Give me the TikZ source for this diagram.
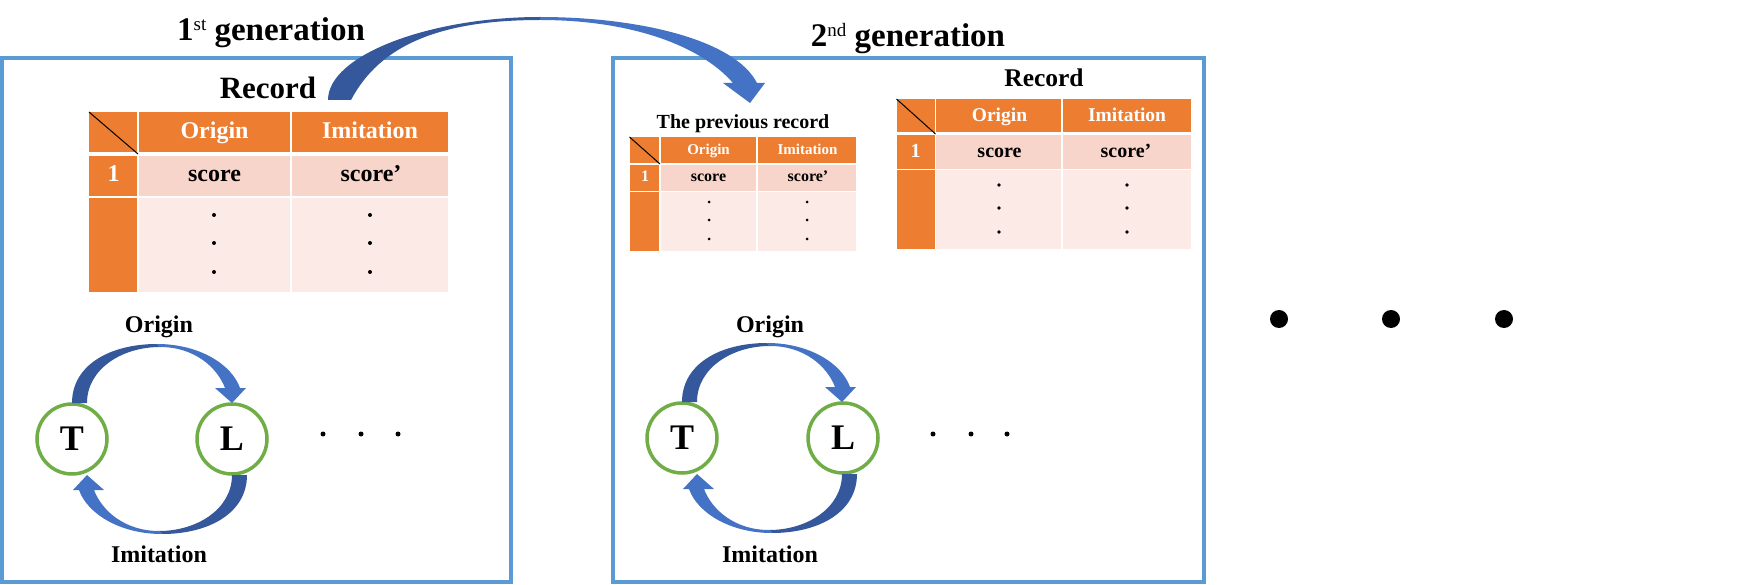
\documentclass[tikz,border=0pt]{standalone}
\usepackage{fontspec}
\setmainfont{Liberation Serif}
\definecolor{orng}{HTML}{ED7D31}
\definecolor{bandA}{HTML}{F8D5CA}
\definecolor{bandB}{HTML}{FBEAE6}
\definecolor{framec}{HTML}{5B9BD5}
\definecolor{ringgreen}{HTML}{70AD47}
\definecolor{arrlight}{HTML}{4472C4}
\definecolor{arrdark}{HTML}{34589B}
\tikzset{
  lbl/.style={anchor=base, inner sep=0pt, font=\bfseries\fontsize{#1}{#1}\selectfont},
  hdr/.style={lbl=#1, text=white},
  ring/.style={circle, draw=ringgreen, line width=3.5pt, minimum size=70pt, inner sep=0pt, font=\bfseries\fontsize{36}{36}\selectfont},
  framebox/.style={draw=framec, line width=4pt},
  cellsep/.style={draw=white, line width=#1},
  diag/.style={draw=black, line width=1pt},
}
\newcommand{\loopArrow}{%
  \fill[arrdark] (0,-36) .. controls (0,-74) and (38,-95) .. (85,-95) -- (88,-92)
     .. controls (50,-92) and (15,-70) .. (15,-36) -- cycle;
  \fill[arrlight] (85,-95) .. controls (128,-95) and (160,-74) .. (168,-51) -- (174,-51)
     -- (160,-36) -- (143,-51) -- (153,-51) .. controls (145,-72) and (122,-92) .. (88,-92) -- cycle;
}
\begin{document}
\begin{tikzpicture}[x=1pt, y=-1pt]
\useasboundingbox (0,0) rectangle (1740,585);

% frames
\draw[framebox] (2,58) rectangle (511,582);
\draw[framebox] (613,58) rectangle (1204,582);

% titles
\node[lbl=33] (gen1) at (271,41) {1\raisebox{10pt}{\mdseries\fontsize{19}{19}\selectfont st} generation};
\node[lbl=33] (gen2) at (908,47) {2\raisebox{10pt}{\mdseries\fontsize{19}{19}\selectfont nd} generation};
\node[lbl=31] (rec1) at (268,99) {Record};
\node[lbl=25.5] (rec2) at (1044,87) {Record};
\node[lbl=20] (prev) at (743,129) {The previous record};

% ---------- table 1 ----------
\fill[orng] (89,112) rectangle (448,154);
\fill[orng] (89,154) rectangle (138,292);
\fill[bandA] (138,154) rectangle (448,197);
\fill[bandB] (138,197) rectangle (448,292);
\draw[cellsep=1.5pt] (138,112) -- (138,292) (291,112) -- (291,292) (89,197) -- (448,197);
\draw[cellsep=3.5pt] (89,154) -- (448,154);
\draw[diag] (89,112) -- (138,154);
\node[hdr=24] (t1h1) at (214.5,139) {Origin};
\node[hdr=24] (t1h2) at (370,139) {Imitation};
\node[hdr=24] (t1n) at (113.5,182) {1};
\node[lbl=24] (t1a) at (214.5,182) {score};
\node[lbl=24] (t1b) at (371,182) {score’};
\foreach \yy in {215,243,272}{\fill (214,\yy) circle (2); \fill (370,\yy) circle (2);}

% ---------- table 2 (previous record) ----------
\fill[orng] (629.5,137) rectangle (856,164);
\fill[orng] (629.5,164) rectangle (660,251);
\fill[bandA] (660,164) rectangle (856,191.5);
\fill[bandB] (660,191.5) rectangle (856,251);
\draw[cellsep=1.2pt] (660,137) -- (660,251) (757,137) -- (757,251) (629.5,191.5) -- (856,191.5);
\draw[cellsep=2pt] (629.5,164) -- (856,164);
\draw[diag] (629.5,137) -- (660,164);
\node[hdr=15] (t2h1) at (708.5,155) {Origin};
\node[hdr=15] (t2h2) at (807.5,155) {Imitation};
\node[hdr=16] (t2n) at (645,182) {1};
\node[lbl=16] (t2a) at (708.5,182) {score};
\node[lbl=16] (t2b) at (808,182) {score’};
\foreach \yy in {202,220,239}{\fill (709,\yy) circle (1.5); \fill (807,\yy) circle (1.5);}

% ---------- table 3 (record, 2nd gen) ----------
\fill[orng] (896.5,99) rectangle (1191,134);
\fill[orng] (896.5,134) rectangle (935.5,249);
\fill[bandA] (935.5,134) rectangle (1191,169.5);
\fill[bandB] (935.5,169.5) rectangle (1191,249);
\draw[cellsep=1.5pt] (935.5,99) -- (935.5,249) (1062,99) -- (1062,249) (896.5,169.5) -- (1191,169.5);
\draw[cellsep=3pt] (896.5,134) -- (1191,134);
\draw[diag] (896.5,99) -- (935.5,134);
\node[hdr=19.5] (t3h1) at (999.5,122) {Origin};
\node[hdr=19.5] (t3h2) at (1127,122) {Imitation};
\node[hdr=20] (t3n) at (915.5,158) {1};
\node[lbl=20] (t3a) at (999.5,158) {score};
\node[lbl=20] (t3b) at (1126,158) {score’};
\foreach \yy in {185,208,232}{\fill (999,\yy) circle (1.8); \fill (1127,\yy) circle (1.8);}

% ---------- cycles ----------
\node[ring] (T1) at (72,439) {T};
\node[ring] (L1) at (232,439) {L};
\node[lbl=24] (o1) at (159,333) {Origin};
\node[lbl=24] (i1) at (159,562) {Imitation};
\begin{scope}[shift={(T1.center)}] \loopArrow \end{scope}
\begin{scope}[shift={(T1.center)}, rotate around={180:(87.5,0)}] \loopArrow \end{scope}
\foreach \xx in {323,361,398}{\fill (\xx,434) circle (2.5);}

\node[ring] (T2) at (682,438) {T};
\node[ring] (L2) at (843,438) {L};
\node[lbl=24] (o2) at (770,333) {Origin};
\node[lbl=24] (i2) at (770,562) {Imitation};
\begin{scope}[shift={(T2.center)}] \loopArrow \end{scope}
\begin{scope}[shift={(T2.center)}, rotate around={180:(87.5,0)}] \loopArrow \end{scope}
\foreach \xx in {933,971,1007}{\fill (\xx,434) circle (2.5);}

% big dots
\foreach \xx in {1279,1391,1504}{\fill (\xx,319) circle (9);}

% ---------- big arrow from record 1 to generation 2 ----------
\fill[arrdark] (328,100) .. controls (328,55) and (430,17) .. (540,17) -- (540,20)
   .. controls (440,20) and (380,45) .. (351,100) -- cycle;
\fill[arrlight] (540,17) .. controls (640,17) and (735,40) .. (757,83) -- (765,83)
   -- (750,103) -- (723,83) -- (733,83) .. controls (700,45) and (630,20) .. (540,20) -- cycle;
\end{tikzpicture}
\end{document}
